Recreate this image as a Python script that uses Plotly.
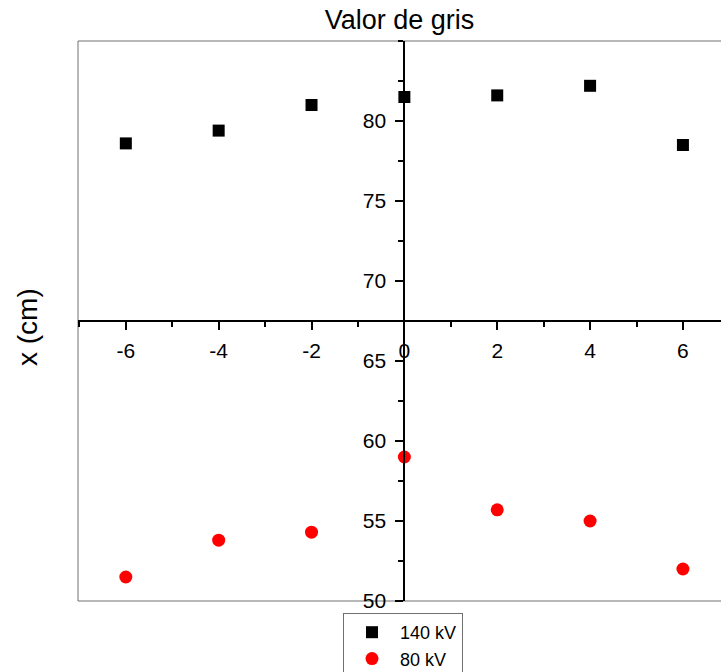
import plotly.graph_objects as go

x_pos = [-6, -4, -2, 0, 2, 4, 6]
gris_140kv = [78.6, 79.4, 81.0, 81.5, 81.6, 82.2, 78.5]
gris_80kv = [51.5, 53.8, 54.3, 59.0, 55.7, 55.0, 52.0]
x_ticks = [-6, -4, -2, 0, 2, 4, 6]
x_tick_labels = ["-6", "-4", "-2", "0", "2", "4", "6"]
y_ticks = [50, 55, 60, 65, 70, 75, 80]

FONT = "Liberation Sans, Arial, sans-serif"

fig = go.Figure()
fig.add_trace(go.Scatter(x=x_pos, y=gris_140kv, mode="markers", name="140 kV",
                         marker=dict(symbol="square", size=12, color="black")))
fig.add_trace(go.Scatter(x=x_pos, y=gris_80kv, mode="markers", name="80 kV",
                         marker=dict(symbol="circle", size=13, color="#ff0000")))

xr = [-7.03, 6.82]
ypos = (0 - xr[0]) / (xr[1] - xr[0])

fig.update_layout(
    width=721, height=672,
    margin=dict(l=78, r=0, t=41, b=71, autoexpand=False),
    paper_bgcolor="white", plot_bgcolor="white",
    font=dict(family=FONT, color="black", size=21),
    title=dict(text="Valor de gris", x=0.5, xref="paper", y=1 - 20 / 672, yref="container",
               xanchor="center", yanchor="middle", font=dict(size=27, family=FONT)),
    xaxis=dict(range=xr, tickvals=x_ticks, ticktext=x_tick_labels, ticks="outside", ticklen=8, tickwidth=2,
               tickcolor="black", showline=True, linecolor="black", linewidth=2,
               showgrid=False, zeroline=False, anchor="free", position=0.5,
               tickfont=dict(size=21), ticklabelstandoff=3,
               minor=dict(dtick=1, tick0=1, ticks="outside", ticklen=5, tickwidth=2, tickcolor="black", showgrid=False)),
    yaxis=dict(range=[50, 85], tickvals=y_ticks, ticks="outside", ticklen=8, tickwidth=2,
               tickcolor="black", showline=True, linecolor="black", linewidth=2,
               showgrid=False, zeroline=False, anchor="free", position=ypos,
               tickfont=dict(size=21), ticklabelstandoff=5,
               minor=dict(dtick=2.5, tick0=50, ticks="outside", ticklen=5, tickwidth=2, tickcolor="black", showgrid=False)),
    legend=dict(x=(343 - 78) / 643, y=-(613 - 601) / 560, xanchor="left", yanchor="top",
                bordercolor="#707070", borderwidth=1, bgcolor="white", itemwidth=46,
                font=dict(size=18, family=FONT), tracegroupgap=0),
    showlegend=True,
)

frame = dict(type="line", xref="paper", yref="paper", line=dict(color="#707070", width=1), layer="below")
fig.add_shape(**frame, x0=0, x1=0, y0=0, y1=1)
fig.add_shape(**frame, x0=0, x1=1.05, y0=1, y1=1)
fig.add_shape(**frame, x0=0, x1=1.05, y0=0, y1=0)

fig.add_annotation(text="x (cm)", xref="paper", yref="paper",
                   x=(27 - 78) / 643, y=(601 - 327) / 560, textangle=-90,
                   showarrow=False, xanchor="center", yanchor="middle",
                   font=dict(size=28, family=FONT))

fig.write_html("out.html")
